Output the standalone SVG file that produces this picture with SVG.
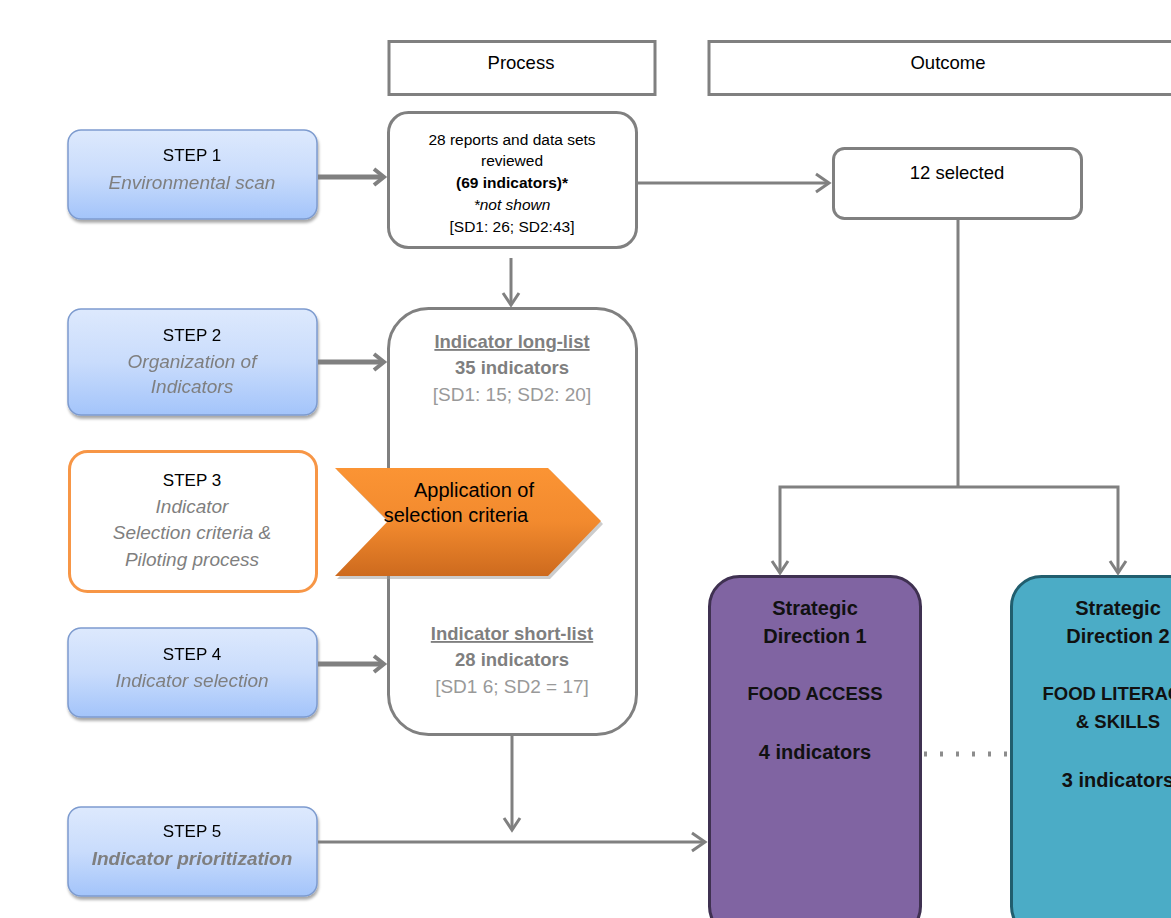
<svg xmlns="http://www.w3.org/2000/svg" width="1171" height="918" viewBox="0 0 1171 918">
<defs>
<linearGradient id="blue" x1="0" y1="0" x2="0" y2="1">
<stop offset="0" stop-color="#dde9fd"/>
<stop offset="0.5" stop-color="#c9dcfc"/>
<stop offset="1" stop-color="#a3c4fa"/>
</linearGradient>
<linearGradient id="orange" x1="0" y1="0" x2="0" y2="1">
<stop offset="0" stop-color="#fb9434"/>
<stop offset="0.5" stop-color="#f28a2e"/>
<stop offset="1" stop-color="#cd6a1e"/>
</linearGradient>
<filter id="sh" x="-10%" y="-10%" width="120%" height="130%">
<feGaussianBlur in="SourceAlpha" stdDeviation="1.5"/>
<feOffset dx="1" dy="3" result="b"/>
<feComponentTransfer><feFuncA type="linear" slope="0.35"/></feComponentTransfer>
<feMerge><feMergeNode/><feMergeNode in="SourceGraphic"/></feMerge>
</filter>
</defs>
<style>
text{font-family:"Liberation Sans",Arial,sans-serif;text-anchor:middle}
.step{fill:url(#blue);stroke:#7d9bcf;stroke-width:1.5}
.h{font-size:17px;fill:#000}
.hd{font-size:18.5px;fill:#000}
.sub{font-size:19px;fill:#7f7f7f;font-style:italic}
.gbox{fill:#fff;stroke:#808080;stroke-width:3}
.t14{font-size:15.5px;fill:#000}
.gb{font-size:18.5px;fill:#7f7f7f;font-weight:bold}
.gn{font-size:19px;fill:#999}
.sd{font-size:20px;font-weight:bold;fill:#111}
.sdc{font-size:18.5px;font-weight:bold;fill:#111}
</style>

<g id="header-process">
<rect x="389" y="41.5" width="266" height="53" fill="#fff" stroke="#808080" stroke-width="3"/>
<text class="hd" x="521" y="69">Process</text>
</g>
<g id="header-outcome">
<rect x="709" y="41.5" width="470" height="53" fill="#fff" stroke="#808080" stroke-width="3"/>
<text class="hd" x="948" y="69">Outcome</text>
</g>

<g id="step1" filter="url(#sh)">
<rect class="step" x="68" y="130" width="249" height="89" rx="13"/>
<text class="h" x="192" y="161">STEP 1</text>
<text class="sub" x="192" y="189">Environmental scan</text>
</g>
<g id="step2" filter="url(#sh)">
<rect class="step" x="68" y="309" width="249" height="106" rx="13"/>
<text class="h" x="192" y="341">STEP 2</text>
<text class="sub" x="192" y="368">Organization of</text>
<text class="sub" x="192" y="393">Indicators</text>
</g>
<g id="step3">
<rect x="69.5" y="451.5" width="247" height="140" rx="18" fill="#fff" stroke="#f79646" stroke-width="3"/>
<text class="h" x="192" y="486">STEP 3</text>
<text class="sub" x="192" y="513">Indicator</text>
<text class="sub" x="192" y="539">Selection criteria &amp;</text>
<text class="sub" x="192" y="566">Piloting process</text>
</g>
<g id="step4" filter="url(#sh)">
<rect class="step" x="68" y="628" width="249" height="89" rx="13"/>
<text class="h" x="192" y="660">STEP 4</text>
<text class="sub" x="192" y="687">Indicator selection</text>
</g>
<g id="step5" filter="url(#sh)">
<rect class="step" x="68" y="807" width="249" height="89" rx="13"/>
<text class="h" x="192" y="837">STEP 5</text>
<text class="sub" x="192" y="865" font-weight="bold">Indicator prioritization</text>
</g>

<g id="reports">
<rect class="gbox" x="388.5" y="112.5" width="248" height="135" rx="20"/>
<text class="t14" x="512" y="145">28 reports and data sets</text>
<text class="t14" x="512" y="166">reviewed</text>
<text class="t14" x="512" y="188" font-weight="bold">(69 indicators)*</text>
<text class="t14" x="512" y="210" font-style="italic">*not shown</text>
<text class="t14" x="512" y="232">[SD1: 26; SD2:43]</text>
</g>

<g id="lists">
<rect class="gbox" x="388.5" y="308.5" width="248" height="426" rx="40"/>
<text class="gb" x="512" y="348" text-decoration="underline">Indicator long-list</text>
<text class="gb" x="512" y="374">35 indicators</text>
<text class="gn" x="512" y="401">[SD1: 15; SD2: 20]</text>
<text class="gb" x="512" y="640" text-decoration="underline">Indicator short-list</text>
<text class="gb" x="512" y="666">28 indicators</text>
<text class="gn" x="512" y="693">[SD1 6; SD2 = 17]</text>
</g>

<g id="criteria">
<polygon points="337,470 550,470 603,524 550,579 337,579 390,524" fill="#999" opacity="0.5"/>
<polygon points="335,468 548,468 601,521 548,576 335,576 388,521" fill="url(#orange)"/>
<text x="474" y="497" font-size="20" fill="#000">Application of</text>
<text x="456" y="522" font-size="20" fill="#000">selection criteria</text>
</g>

<g id="selected">
<rect class="gbox" x="833.5" y="148.5" width="248" height="70" rx="11"/>
<text class="hd" x="957" y="179">12 selected</text>
</g>

<g id="sd1">
<rect x="709.5" y="576.5" width="211" height="360" rx="30" fill="#8064a2" stroke="#3f3151" stroke-width="3"/>
<text class="sd" x="815" y="615">Strategic</text>
<text class="sd" x="815" y="643">Direction 1</text>
<text class="sdc" x="815" y="700">FOOD ACCESS</text>
<text class="sd" x="815" y="759">4 indicators</text>
</g>
<g id="sd2">
<rect x="1011.5" y="576.5" width="220" height="360" rx="30" fill="#4bacc6" stroke="#215e6e" stroke-width="3"/>
<text class="sd" x="1118" y="615">Strategic</text>
<text class="sd" x="1118" y="643">Direction 2</text>
<text class="sdc" x="1118" y="700">FOOD LITERACY</text>
<text class="sdc" x="1118" y="728">&amp; SKILLS</text>
<text class="sd" x="1118" y="787">3 indicators</text>
</g>

<g id="connectors">
<g stroke="#808080" stroke-width="5" fill="none">
<line x1="318" y1="177" x2="383" y2="177"/>
<polyline points="374,169 384,177 374,185" stroke-width="4"/>
<line x1="318" y1="362" x2="383" y2="362"/>
<polyline points="374,354 384,362 374,370" stroke-width="4"/>
<line x1="318" y1="664" x2="383" y2="664"/>
<polyline points="374,656 384,664 374,672" stroke-width="4"/>
</g>
<g stroke="#808080" stroke-width="3" fill="none">
<line x1="637" y1="183" x2="829" y2="183"/>
<polyline points="816,174 829,183 816,192"/>
<line x1="511" y1="258" x2="511" y2="304"/>
<polyline points="503,293 511,305 519,293"/>
<line x1="958" y1="219" x2="958" y2="487"/>
<polyline points="780,572 780,487 1118,487 1118,572"/>
<polyline points="772,561 780,573 788,561"/>
<polyline points="1110,561 1118,573 1126,561"/>
<line x1="512" y1="736" x2="512" y2="830"/>
<polyline points="504,818 512,830 520,818"/>
<line x1="318" y1="842" x2="705" y2="842"/>
<polyline points="692,833 705,842 692,851"/>
</g>
<line x1="924" y1="754" x2="1008" y2="754" stroke="#8c8c8c" stroke-width="5" stroke-dasharray="3,13"/>
</g>
</svg>
